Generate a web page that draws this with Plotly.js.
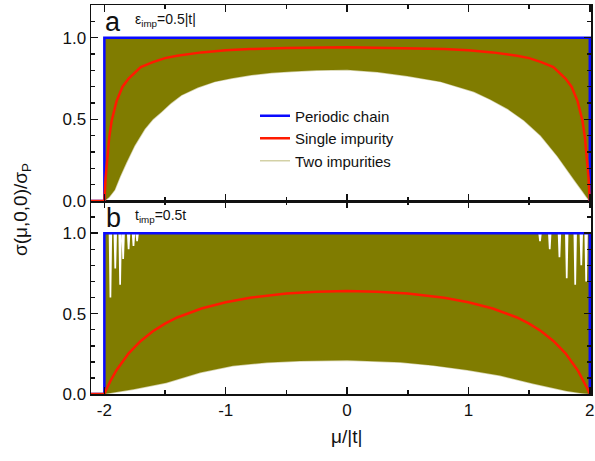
<!DOCTYPE html>
<html>
<head>
<meta charset="utf-8">
<script src="https://cdn.plot.ly/plotly-3.0.1.min.js"></script>
<style>
  html, body { margin: 0; padding: 0; background: #fff; }
  #chart { width: 595px; height: 461px; }
</style>
</head>
<body>
<div id="chart"></div>
<script>
// Clean periodic chain: full transmission inside the band |mu| < 2|t|
const muPeriodic = [-2.11, -2, -2, 2, 2, 2.01];
const sigPeriodic = [0, 0, 1, 1, 0, 0];

// Panel a: on-site impurity, eps_imp = 0.5|t|
const muSingleA = [-2.11, -2, -1.99, -1.98, -1.96, -1.94, -1.9, -1.85, -1.8, -1.7, -1.6, -1.5, -1.4, -1.2, -1.0, -0.8, -0.5, 0,
                   0.5, 0.8, 1.0, 1.2, 1.4, 1.5, 1.6, 1.7, 1.8, 1.85, 1.9, 1.94, 1.96, 1.98, 1.99, 2, 2.01];
const sigSingleA = [0, 0, 0.14, 0.24, 0.39, 0.49, 0.61, 0.70, 0.75, 0.82, 0.85, 0.875, 0.89, 0.91, 0.923, 0.93, 0.937, 0.941,
                    0.937, 0.93, 0.923, 0.91, 0.89, 0.875, 0.85, 0.82, 0.75, 0.70, 0.61, 0.49, 0.39, 0.24, 0.14, 0, 0];

// Two impurities: the fast oscillation fills the band between these envelopes
const muTwoA = [-2, -1.96, -1.915, -1.87, -1.819, -1.75, -1.667, -1.6, -1.53, -1.45, -1.365, -1.23, -1.09, -0.95, -0.788, -0.62, -0.458, -0.25, 0,
                0.25, 0.496, 0.771, 1.046, 1.18, 1.321, 1.458, 1.596, 1.733, 1.871, 1.94, 1.981, 2];
const sigTwoLowA = [0, 0.025, 0.068, 0.15, 0.234, 0.34, 0.441, 0.50, 0.545, 0.60, 0.648, 0.695, 0.731, 0.752, 0.772, 0.785, 0.793, 0.80, 0.803,
                    0.79, 0.765, 0.731, 0.669, 0.622, 0.565, 0.493, 0.40, 0.275, 0.13, 0.06, 0.017, 0];
const muTwoHighA = [-2, 2];
const sigTwoHighA = [1, 1];

// Panel b: bond impurity, t_imp = 0.5t
const muSingleB = [-2.11, -2, -1.98, -1.95, -1.9, -1.8, -1.7, -1.6, -1.5, -1.4, -1.2, -1.0, -0.8, -0.5, -0.25, 0,
                   0.25, 0.5, 0.8, 1.0, 1.2, 1.4, 1.5, 1.6, 1.7, 1.8, 1.9, 1.95, 1.98, 2, 2.01];
const sigSingleB = [0, 0, 0.034, 0.081, 0.148, 0.253, 0.33, 0.39, 0.438, 0.476, 0.532, 0.571, 0.599, 0.625, 0.636, 0.64,
                    0.636, 0.625, 0.599, 0.571, 0.532, 0.476, 0.438, 0.39, 0.33, 0.253, 0.148, 0.081, 0.034, 0, 0];

const muTwoB = [-2, -1.9, -1.76, -1.49, -1.21, -0.94, -0.66, -0.39, 0, 0.44, 0.71, 0.99, 1.26, 1.53, 1.81, 1.92, 2];
const sigTwoLowB = [0, 0.012, 0.03, 0.07, 0.133, 0.175, 0.196, 0.206, 0.21, 0.198, 0.178, 0.15, 0.115, 0.065, 0.018, 0.006, 0];
// deepest minima of the oscillation near the band edges (the rest reaches 1)
const muDipB = [-1.95, -1.91, -1.87, -1.845, -1.8, -1.76, -1.73, 1.59, 1.67, 1.75, 1.81, 1.88, 1.93, 1.97];
const sigDipB = [0.6, 0.78, 0.68, 0.84, 0.9, 0.92, 0.95, 0.95, 0.9, 0.85, 0.72, 0.68, 0.8, 0.7];

// Axis tick labels
const xTickVals = [-2, -1, 0, 1, 2];
const xTickText = ['-2', '-1', '0', '1', '2'];
const yTickVals = [0, 0.5, 1];
const yTickText = ['0.0', '0.5', '1.0'];

const OLIVE = '#807c00';
const BLUE = '#0a0aff';
const RED = '#ff1a00';

// upper edge of the oscillating band: 1 everywhere, with narrow notches at the minima
function upperEdge(dipMu, dipSig) {
  const w = 0.007;
  const x = [-2], y = [1];
  dipMu.forEach((m, i) => {
    x.push(m - 2 * w, m - w, m + w, m + 2 * w);
    y.push(1, dipSig[i], dipSig[i], 1);
  });
  x.push(2); y.push(1);
  return { x, y };
}
const edgeB = upperEdge(muDipB, sigDipB);

function panel(xa, ya, muS, sigS, muT, lowT, muH, highT, legend) {
  return [
    { x: muT, y: lowT, xaxis: xa, yaxis: ya, mode: 'lines', name: 'Two impurities',
      line: { color: 'rgba(128,124,0,0.35)', width: 1.5, simplify: false }, showlegend: legend, legendrank: 3 },
    { x: muH, y: highT, xaxis: xa, yaxis: ya, mode: 'lines', fill: 'tonexty',
      fillcolor: OLIVE, line: { color: OLIVE, width: 0, simplify: false }, showlegend: false, hoverinfo: 'skip' },
    { x: muPeriodic, y: sigPeriodic, xaxis: xa, yaxis: ya, mode: 'lines', name: 'Periodic chain',
      line: { color: BLUE, width: 2.5 }, showlegend: legend, legendrank: 1 },
    { x: muS, y: sigS, xaxis: xa, yaxis: ya, mode: 'lines', name: 'Single impurity',
      line: { color: RED, width: 2.5 }, showlegend: legend, legendrank: 2 }
  ];
}

const data = [
  ...panel('x2', 'y2', muSingleA, sigSingleA, muTwoA, sigTwoLowA, muTwoHighA, sigTwoHighA, true),
  ...panel('x', 'y', muSingleB, sigSingleB, muTwoB, sigTwoLowB, edgeB.x, edgeB.y, false)
];

const tickFont = { family: 'Liberation Sans, Arial, sans-serif', size: 17, color: '#111' };

const xCommon = {
  range: [-2.11, 2.01], tickmode: 'array', tickvals: xTickVals, ticktext: xTickText,
  showline: true, linecolor: '#111', linewidth: 1.5, mirror: 'ticks',
  ticks: 'inside', ticklen: 7, tickwidth: 1.5, tickcolor: '#111',
  minor: { tick0: 0.5, dtick: 1, ticks: 'inside', ticklen: 4, tickwidth: 1.5, tickcolor: '#111' },
  showgrid: false, zeroline: false, tickfont: tickFont
};
const yCommon = {
  range: [0, 1.2], tickmode: 'array', tickvals: yTickVals, ticktext: yTickText,
  showline: true, linecolor: '#111', linewidth: 1.5, mirror: 'ticks',
  ticks: 'inside', ticklen: 7, tickwidth: 1.5, tickcolor: '#111',
  minor: { tick0: 0, dtick: 0.1, ticks: 'inside', ticklen: 4, tickwidth: 1.5, tickcolor: '#111' },
  showgrid: false, zeroline: false, tickfont: tickFont
};

const layout = {
  width: 595, height: 461,
  margin: { l: 91, r: 4, t: 5, b: 67 },
  paper_bgcolor: '#fff', plot_bgcolor: '#fff',
  font: { family: 'Liberation Sans, Arial, sans-serif', color: '#111' },
  xaxis: Object.assign({}, xCommon, { anchor: 'y', domain: [0, 1] }),
  xaxis2: Object.assign({}, xCommon, { anchor: 'y2', matches: 'x', showticklabels: false }),
  yaxis: Object.assign({}, yCommon, { anchor: 'x', domain: [0, 0.496] }),
  yaxis2: Object.assign({}, yCommon, { anchor: 'x2', domain: [0.496, 1] }),
  showlegend: true,
  legend: {
    x: 0.328, y: 0.757, xanchor: 'left', yanchor: 'top', traceorder: 'normal',
    bgcolor: 'rgba(0,0,0,0)', font: { size: 15, color: '#111' },
    tracegroupgap: 0
  },
  annotations: [
    { xref: 'paper', yref: 'paper', x: 0.044, y: 0.957, text: 'a', showarrow: false,
      xanchor: 'center', yanchor: 'middle', font: { size: 27, color: '#111' } },
    { xref: 'paper', yref: 'paper', x: 0.084, y: 0.962, text: 'ε<sub>imp</sub>=0.5|t|', showarrow: false,
      xanchor: 'left', yanchor: 'middle', font: { size: 14, color: '#111' } },
    { xref: 'paper', yref: 'paper', x: 0.044, y: 0.452, text: 'b', showarrow: false,
      xanchor: 'center', yanchor: 'middle', font: { size: 27, color: '#111' } },
    { xref: 'paper', yref: 'paper', x: 0.084, y: 0.458, text: 't<sub>imp</sub>=0.5t', showarrow: false,
      xanchor: 'left', yanchor: 'middle', font: { size: 14, color: '#111' } },
    { xref: 'paper', yref: 'paper', x: -0.138, y: 0.473, text: 'σ(μ,0,0)/σ<sub>P</sub>', showarrow: false,
      textangle: -90, xanchor: 'center', yanchor: 'middle', font: { size: 19, color: '#111' } },
    { xref: 'paper', yref: 'paper', x: 0.51, y: -0.11, text: 'μ/|t|', showarrow: false,
      xanchor: 'center', yanchor: 'middle', font: { size: 19, color: '#111' } }
  ]
};

Plotly.newPlot('chart', data, layout, { displayModeBar: false, staticPlot: true });
</script>
</body>
</html>
